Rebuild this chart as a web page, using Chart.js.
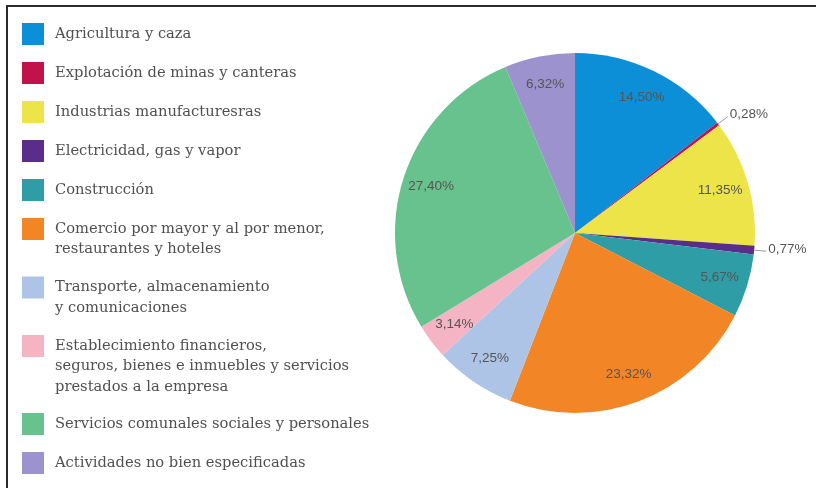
<!DOCTYPE html>
<html>
<head>
<meta charset="utf-8">
<script src="https://cdn.jsdelivr.net/npm/chart.js@4.4.1/dist/chart.umd.min.js"></script>
<style>
  html, body { margin: 0; padding: 0; background: #fff; }
  #wrap { width: 816px; height: 488px; }
</style>
</head>
<body>
<div id="wrap"><canvas id="pieChart" width="816" height="488"></canvas></div>
<script>
// categories (multi-line entries are arrays of lines)
const categories = [
  'Agricultura y caza',
  'Explotación de minas y canteras',
  'Industrias manufacturesras',
  'Electricidad, gas y vapor',
  'Construcción',
  ['Comercio por mayor y al por menor,', 'restaurantes y hoteles'],
  ['Transporte, almacenamiento', 'y comunicaciones'],
  ['Establecimiento financieros,', 'seguros, bienes e inmuebles y servicios', 'prestados a la empresa'],
  'Servicios comunales sociales y personales',
  'Actividades no bien especificadas'
];
const shares = [14.50, 0.28, 11.35, 0.77, 5.67, 23.32, 7.25, 3.14, 27.40, 6.32];
const colors = ['#0c8fd6', '#c1124b', '#ece448', '#5a2d8a', '#2f9da6',
                '#f28526', '#adc4e7', '#f4b4c3', '#68c28d', '#9c92cd'];

const fmtPct = v => v.toFixed(2).replace('.', ',') + '%';

// frame lines (top + left only, the picture is cropped on the other sides)
const framePlugin = {
  id: 'frame',
  beforeDraw(chart) {
    const ctx = chart.ctx;
    ctx.save();
    ctx.strokeStyle = '#2b2b2b';
    ctx.lineWidth = 2;
    ctx.beginPath();
    ctx.moveTo(816, 6);
    ctx.lineTo(7, 6);
    ctx.lineTo(7, 488);
    ctx.stroke();
    ctx.restore();
  }
};

// legend on the left, drawn from the chart's own labels and colours
const sideLegend = {
  id: 'sideLegend',
  afterDraw(chart) {
    const ctx = chart.ctx;
    const labels = chart.data.labels;
    const bg = chart.data.datasets[0].backgroundColor;
    let top = 23;
    ctx.save();
    ctx.font = '14.7px "DejaVu Serif", serif';
    ctx.textBaseline = 'middle';
    labels.forEach((lab, i) => {
      const lines = Array.isArray(lab) ? lab : [lab];
      ctx.fillStyle = bg[i];
      ctx.fillRect(22, top, 22, 22);
      ctx.fillStyle = '#505050';
      lines.forEach((ln, j) => {
        ctx.fillText(ln, 55, top + 11 + j * 20.5);
      });
      top += 39 + 19.5 * (lines.length - 1);
    });
    ctx.restore();
  }
};

// percentage labels on the slices
const pctLabels = {
  id: 'pctLabels',
  afterDatasetsDraw(chart) {
    const ctx = chart.ctx;
    const meta = chart.getDatasetMeta(0);
    const data = chart.data.datasets[0].data;
    ctx.save();
    ctx.font = '13.5px "Liberation Sans", Arial, sans-serif';
    ctx.fillStyle = '#555';
    ctx.textBaseline = 'middle';
    meta.data.forEach((arc, i) => {
      const p = arc.getProps(['x', 'y', 'startAngle', 'endAngle', 'outerRadius'], true);
      const mid = (p.startAngle + p.endAngle) / 2;
      const txt = fmtPct(data[i]);
      if (data[i] < 1) {
        const x0 = p.x + Math.cos(mid) * p.outerRadius;
        const y0 = p.y + Math.sin(mid) * p.outerRadius;
        const x1 = p.x + Math.cos(mid) * (p.outerRadius + 12);
        const y1 = p.y + Math.sin(mid) * (p.outerRadius + 12);
        ctx.strokeStyle = '#999';
        ctx.lineWidth = 1;
        ctx.beginPath();
        ctx.moveTo(x0, y0);
        ctx.lineTo(x1, y1);
        ctx.stroke();
        ctx.textAlign = 'left';
        ctx.fillText(txt, x1 + 2, y1 - 2);
      } else {
        const r = p.outerRadius * 0.84;
        ctx.textAlign = 'center';
        ctx.fillText(txt, p.x + Math.cos(mid) * r, p.y + Math.sin(mid) * r);
      }
    });
    ctx.restore();
  }
};

new Chart(document.getElementById('pieChart'), {
  type: 'pie',
  data: {
    labels: categories,
    datasets: [{
      data: shares,
      backgroundColor: colors,
      borderWidth: 0
    }]
  },
  options: {
    responsive: false,
    animation: false,
    layout: { padding: { left: 395, right: 61, top: 53, bottom: 75 } },
    plugins: {
      legend: { display: false },
      tooltip: { enabled: false }
    }
  },
  plugins: [framePlugin, sideLegend, pctLabels]
});
</script>
</body>
</html>
